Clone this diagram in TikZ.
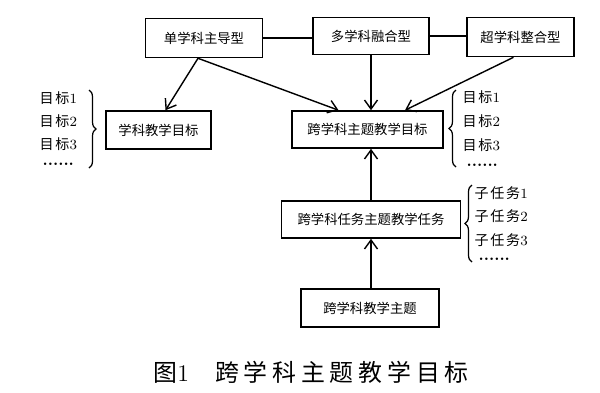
\documentclass[tikz,border=0pt]{standalone}
\usepackage{fontspec}
\newfontfamily\cjk{Noto Sans CJK SC}
\newfontfamily\lbcjk[LetterSpace=12]{Noto Sans CJK SC}
\newfontfamily\tucjk[LetterSpace=20]{Noto Sans CJK SC}
\usetikzlibrary{arrows.meta,decorations.pathreplacing}

\begin{document}
\begin{tikzpicture}[>={Straight Barb[length=1.8mm,width=2.6mm]}, line width=0.8pt,
    kuang/.style={draw, line width=0.9pt, inner sep=0pt, minimum height=0.78cm, font=\cjk\fontsize{7.6}{9}\selectfont},
    xiang/.style={anchor=west, inner sep=0pt, font=\fontsize{8}{9}\selectfont},
    kuohao/.style={decorate, decoration={brace, amplitude=4pt}, line width=0.7pt}]
    \useasboundingbox (0,0) rectangle (12,-7.84);

    % 三种类型
    \node[kuang, minimum width=2.34cm] (dan) at (4.08,-0.76) {单学科主导型};
    \node[kuang, minimum width=2.32cm, minimum height=0.74cm] (duo) at (7.42,-0.72) {多学科融合型};
    \node[kuang, minimum width=2.14cm] (chao) at (10.41,-0.74) {超学科整合型};
    \draw (dan.east) -- (dan.east -| duo.west);
    \draw (duo.east) -- (duo.east -| chao.west);

    % 目标
    \node[kuang, minimum width=2.10cm, minimum height=0.76cm] (xueke) at (3.17,-2.60) {学科教学目标};
    \node[kuang, minimum width=3.02cm, minimum height=0.74cm] (kua) at (7.35,-2.59) {跨学科主题教学目标};

    % 任务与主题
    \node[kuang, minimum width=3.58cm, minimum height=0.74cm] (renwu) at (7.42,-4.39) {跨学科任务主题教学任务};
    \node[kuang, minimum width=2.76cm, minimum height=0.76cm] (zhuti) at (7.40,-6.16) {跨学科教学主题};

    % 箭头
    \draw[->] ([xshift=-0.12cm]dan.south) -- ([xshift=0.14cm]xueke.north);
    \draw[->] ([xshift=-0.12cm]dan.south) -- ([xshift=-0.58cm]kua.north);
    \draw[->] (duo.south) -- (duo.south |- kua.north);
    \draw[->] ([xshift=-0.14cm]chao.south) -- ([xshift=0.75cm]kua.north);
    \draw[->] (renwu.north -| duo.south) -- (duo.south |- kua.south);
    \draw[->] (zhuti.north -| duo.south) -- (duo.south |- renwu.south);

    % 左侧目标列表
    \node[xiang] (zuo1) at (0.78,-1.96) {{\lbcjk 目标}1};
    \node[xiang] (zuo2) at (0.78,-2.42) {{\lbcjk 目标}2};
    \node[xiang] (zuo3) at (0.78,-2.88) {{\lbcjk 目标}3};
    \node[xiang, font=\fontsize{9}{9}\selectfont] (zuo4) at (0.84,-3.28) {\textbf{......}};
    \draw[kuohao] (1.78,-1.80) -- (1.78,-3.36);

    % 右侧目标列表
    \node[xiang] (you1) at (9.24,-1.94) {{\lbcjk 目标}1};
    \node[xiang] (you2) at (9.24,-2.42) {{\lbcjk 目标}2};
    \node[xiang] (you3) at (9.24,-2.90) {{\lbcjk 目标}3};
    \node[xiang, font=\fontsize{9}{9}\selectfont] (you4) at (9.32,-3.30) {\textbf{......}};
    \draw[kuohao] (9.12,-3.34) -- (9.12,-1.80);

    % 子任务列表
    \node[xiang] (zi1) at (9.48,-3.86) {{\lbcjk 子任务}1};
    \node[xiang] (zi2) at (9.48,-4.32) {{\lbcjk 子任务}2};
    \node[xiang] (zi3) at (9.48,-4.80) {{\lbcjk 子任务}3};
    \node[xiang, font=\fontsize{9}{9}\selectfont] (zi4) at (9.56,-5.18) {\textbf{......}};
    \draw[kuohao] (9.44,-5.24) -- (9.44,-3.70);

    % 图题
    \node[font=\fontsize{13.6}{15}\selectfont] (tuti) at (6.22,-7.44) {{\tucjk 图}1\hspace{1.1em}{\tucjk 跨学科主题教学目标}};
\end{tikzpicture}
\end{document}
